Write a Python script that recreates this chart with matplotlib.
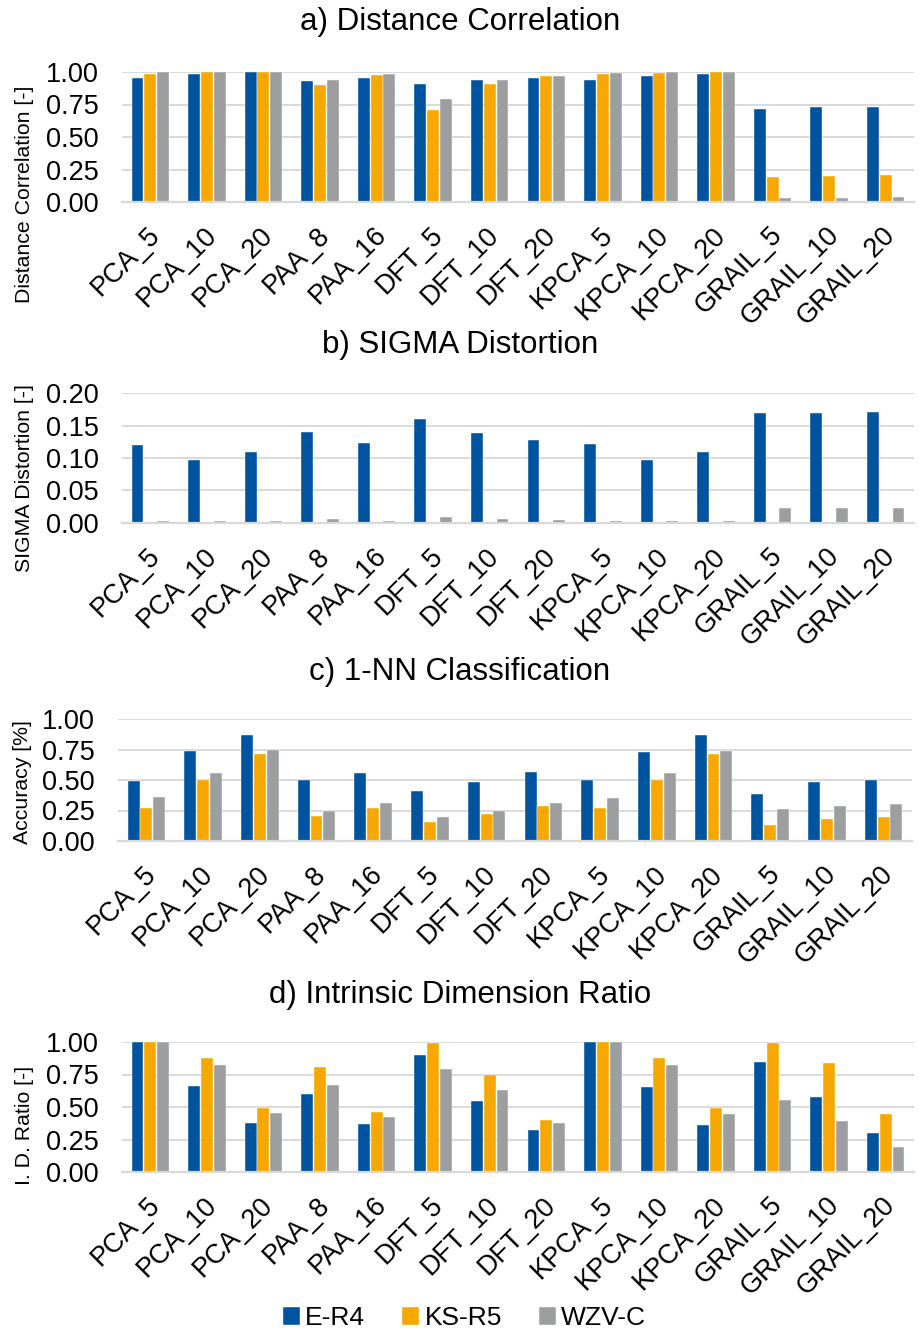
import matplotlib.pyplot as plt
import numpy as np

plt.rcParams['font.family'] = ['Liberation Sans', 'DejaVu Sans']

methods = ['PCA_5', 'PCA_10', 'PCA_20', 'PAA_8', 'PAA_16', 'DFT_5', 'DFT_10', 'DFT_20',
           'KPCA_5', 'KPCA_10', 'KPCA_20', 'GRAIL_5', 'GRAIL_10', 'GRAIL_20']
series = ['E-R4', 'KS-R5', 'WZV-C']
colors = ['#00549F', '#F6A800', '#9C9E9F']

# a) Distance Correlation
dcor_er4 = [0.956, 0.987, 1.0, 0.928, 0.954, 0.905, 0.941, 0.954, 0.941, 0.972, 0.982, 0.718, 0.731, 0.731]
dcor_ks5 = [0.987, 0.997, 1.0, 0.897, 0.974, 0.705, 0.908, 0.969, 0.987, 0.995, 1.0, 0.192, 0.200, 0.205]
dcor_wzv = [1.0, 1.0, 1.0, 0.938, 0.985, 0.790, 0.938, 0.967, 0.995, 1.0, 1.0, 0.031, 0.031, 0.036]

# b) SIGMA Distortion
sig_er4 = [0.1206, 0.0969, 0.1098, 0.140, 0.1237, 0.160, 0.139, 0.128, 0.1216, 0.0974, 0.1098, 0.170, 0.1686, 0.171]
sig_ks5 = [0.0015, 0.0015, 0.0015, 0.0015, 0.0015, 0.0005, 0.0015, 0.0015, 0.0015, 0.0015, 0.0015, 0.0, 0.0, 0.0]
sig_wzv = [0.003, 0.003, 0.003, 0.0057, 0.003, 0.0088, 0.0057, 0.0041, 0.003, 0.003, 0.003, 0.0232, 0.0232, 0.0232]

# c) 1-NN Classification
acc_er4 = [0.490, 0.736, 0.869, 0.499, 0.561, 0.411, 0.482, 0.567, 0.496, 0.733, 0.866, 0.384, 0.482, 0.504]
acc_ks5 = [0.272, 0.501, 0.711, 0.204, 0.272, 0.158, 0.223, 0.289, 0.270, 0.501, 0.711, 0.128, 0.177, 0.193]
acc_wzv = [0.357, 0.561, 0.744, 0.248, 0.313, 0.196, 0.248, 0.311, 0.351, 0.559, 0.741, 0.264, 0.283, 0.302]

# d) Intrinsic Dimension Ratio
idr_er4 = [1.0, 0.661, 0.378, 0.602, 0.370, 0.903, 0.548, 0.324, 1.0, 0.653, 0.365, 0.844, 0.579, 0.301]
idr_ks5 = [1.0, 0.880, 0.490, 0.809, 0.464, 0.995, 0.747, 0.401, 1.0, 0.878, 0.495, 0.995, 0.839, 0.446]
idr_wzv = [1.0, 0.824, 0.454, 0.668, 0.426, 0.793, 0.633, 0.378, 1.0, 0.821, 0.446, 0.556, 0.393, 0.196]

panels = [
    ('a) Distance Correlation', 'Distance Correlation [-]', [dcor_er4, dcor_ks5, dcor_wzv],
     1.0, [0, 0.25, 0.5, 0.75, 1.0]),
    ('b) SIGMA Distortion', 'SIGMA Distortion [-]', [sig_er4, sig_ks5, sig_wzv],
     0.2, [0, 0.05, 0.1, 0.15, 0.2]),
    ('c) 1-NN Classification', 'Accuracy [%]', [acc_er4, acc_ks5, acc_wzv],
     1.0, [0, 0.25, 0.5, 0.75, 1.0]),
    ('d) Intrinsic Dimension Ratio', 'I. D. Ratio [-]', [idr_er4, idr_ks5, idr_wzv],
     1.0, [0, 0.25, 0.5, 0.75, 1.0]),
]

W, H = 920, 1332
fig = plt.figure(figsize=(W / 100, H / 100), dpi=100)

# pixel boxes (left, top, right, bottom) of each plot area
boxes = [(122, 72, 914, 202), (122, 393, 914, 523), (118, 719, 912, 841), (122, 1042, 914, 1172)]
title_y = [22, 345, 672, 995]
ylabel_pos = [(25, 194), (25, 478), (23, 782), (25, 1125)]

x = np.arange(len(methods))
off = 0.225
handles = []
for (title, ylabel, data, ymax, ticks), (l, t, r, b), ty, (lx, ly) in zip(panels, boxes, title_y, ylabel_pos):
    ax = fig.add_axes([l / W, 1 - b / H, (r - l) / W, (b - t) / H])
    for i, (vals, c) in enumerate(zip(data, colors)):
        h = ax.bar(x + (i - 1) * off, vals, width=0.21, color=c, edgecolor='white',
                   linewidth=0.3, zorder=3, clip_on=False, label=series[i])
        if len(handles) < 3:
            handles.append(h)
    ax.set_xlim(-0.5, len(methods) - 0.5)
    ax.set_ylim(0, ymax)
    ax.set_yticks(ticks)
    ax.set_yticklabels(['{:.2f}'.format(v) for v in ticks])
    ax.yaxis.grid(True, color='#D9D9D9', linewidth=1.4, zorder=0)
    ax.set_axisbelow(True)
    for s in ['top', 'right', 'left']:
        ax.spines[s].set_visible(False)
    ax.spines['bottom'].set_color('#D9D9D9')
    ax.spines['bottom'].set_linewidth(1.6)
    ax.spines['bottom'].set_zorder(4)
    ax.tick_params(axis='y', length=0, pad=17, labelsize=19.5)
    ax.tick_params(axis='x', length=0, pad=21, labelsize=19.5)
    ax.set_xticks(x + 0.1)
    ax.set_xticklabels(methods, rotation=45, ha='right', va='center', rotation_mode='anchor')
    fig.text(0.5, 1 - ty / H, title, ha='center', va='center', fontsize=22.5)
    fig.text(lx / W, 1 - ly / H, ylabel, rotation=90, ha='center', va='center', fontsize=15.3)

fig.legend(handles, series, loc='center', bbox_to_anchor=(0.505, 1 - 1318 / H), ncol=3,
           frameon=False, fontsize=19, handlelength=0.65, handleheight=0.65, handletextpad=0.2,
           columnspacing=1.4)

fig.savefig('out.png', dpi=100)
